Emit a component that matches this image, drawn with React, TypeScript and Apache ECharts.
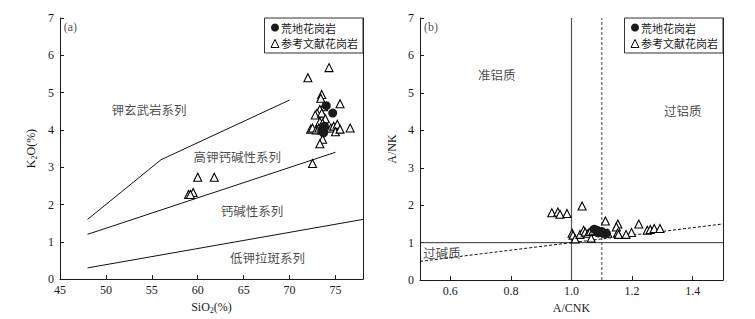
import React, { useEffect, useRef } from "react";
import * as echarts from "echarts";

// ---------- Panel (a): SiO2 vs K2O ----------
const aRefGranite: number[][] = [
  [72.0, 5.4], [74.3, 5.67], [73.5, 4.95], [73.4, 4.85], [75.5, 4.7],
  [73.7, 4.62], [73.3, 4.55], [73.0, 4.45], [72.8, 4.4], [73.5, 4.45],
  [73.9, 4.3], [73.3, 4.22], [73.6, 4.18], [72.3, 4.02], [72.5, 4.05],
  [72.9, 4.0], [73.2, 4.05], [73.5, 4.0], [74.0, 4.05], [74.5, 4.05],
  [74.8, 4.1], [75.2, 4.15], [75.0, 3.95], [75.5, 4.02], [76.6, 4.05],
  [73.6, 3.75], [73.3, 3.63], [72.5, 3.1], [60.0, 2.73], [61.8, 2.73],
  [59.5, 2.32], [59.0, 2.27], [59.2, 2.27],
];
const aHuangdi: number[][] = [
  [74.0, 4.65], [74.7, 4.45], [73.8, 4.1], [73.7, 3.92], [73.5, 4.0],
];
const aShoshoniteLine: number[][] = [[48, 1.6], [56, 3.2], [70, 4.8]];
const aHighKLine: number[][] = [[48, 1.2], [75, 3.4]];
const aLowKLine: number[][] = [[48, 0.3], [78, 1.6]];
const aLabels: { name: string; value: number[]; left?: boolean }[] = [
  { name: "(a)", value: [45.4, 6.75], left: true },
  { name: "钾玄武岩系列", value: [54.7, 4.56] },
  { name: "高钾钙碱性系列", value: [64.3, 3.3] },
  { name: "钙碱性系列", value: [65.9, 1.84] },
  { name: "低钾拉斑系列", value: [67.6, 0.59] },
];

// ---------- Panel (b): A/CNK vs A/NK ----------
const bRefGranite: number[][] = [
  [0.935, 1.8], [0.955, 1.82], [0.962, 1.76], [0.985, 1.78], [1.035, 1.98],
  [1.112, 1.58], [1.153, 1.5], [1.148, 1.42], [1.222, 1.5], [1.25, 1.33],
  [1.26, 1.35], [1.273, 1.38], [1.292, 1.38], [1.198, 1.27], [1.18, 1.22],
  [1.152, 1.26], [1.155, 1.22], [1.002, 1.25], [1.005, 1.2], [1.012, 1.1],
  [1.028, 1.22], [1.04, 1.33], [1.045, 1.28], [1.055, 1.25], [1.065, 1.12],
  [1.062, 1.3], [1.072, 1.33], [1.12, 1.25],
];
const bHuangdi: number[][] = [
  [1.075, 1.36], [1.085, 1.33], [1.095, 1.28], [1.105, 1.25],
  [1.115, 1.25], [1.088, 1.26], [1.1, 1.3],
];
const bACNK1: number[][] = [[1.0, 0], [1.0, 7]];
const bACNK11: number[][] = [[1.1, 0], [1.1, 7]];
const bANK1: number[][] = [[0.5, 1], [1.5, 1]];
const bDiagonal: number[][] = [[0.5, 0.5], [1.5, 1.5]];
const bLabels: { name: string; value: number[]; left?: boolean }[] = [
  { name: "(b)", value: [0.513, 6.75], left: true },
  { name: "准铝质", value: [0.753, 5.5] },
  { name: "过铝质", value: [1.367, 4.53] },
  { name: "过碱质", value: [0.573, 0.75] },
];

const SERIES_REF = "参考文献花岗岩";
const SERIES_HD = "荒地花岗岩";

const SERIF = "'Liberation Serif', 'DejaVu Serif', serif";
const CJK = "'Noto Sans CJK SC', sans-serif";
const INK = "#1a1a1a";

export default function App() {
  const ref = useRef<HTMLDivElement>(null);

  useEffect(() => {
    if (!ref.current) return;
    const chart = echarts.init(ref.current, undefined, { renderer: "svg" });

    const axisLine = { show: true, lineStyle: { color: INK, width: 1 } };
    const axisTick = { show: true, inside: true, length: 4, lineStyle: { color: INK } };
    const labelStyle = { color: INK, fontFamily: SERIF, fontSize: 12 };
    const nameStyle = {
      color: INK,
      fontFamily: SERIF,
      fontSize: 12,
      rich: {
        sub: { fontFamily: SERIF, fontSize: 8, color: INK, padding: [6, 0, 0, 0] },
      },
    };

    const grids = [
      { left: 60, top: 18, width: 303, height: 269 },
      { left: 420, top: 18, width: 303, height: 269 },
    ];

    const xAxes: any[] = [
      {
        gridIndex: 0, type: "value", min: 45, max: 78, interval: 5,
        axisLine, axisTick, splitLine: { show: false },
        axisLabel: { ...labelStyle, margin: 5, showMaxLabel: false },
        name: "SiO{sub|2}(%)", nameLocation: "middle", nameGap: 20, nameTextStyle: nameStyle,
      },
      {
        gridIndex: 1, type: "value", min: 0.5, max: 1.5, splitNumber: 5,
        axisLine, axisTick, splitLine: { show: false },
        axisLabel: {
          ...labelStyle, margin: 5, showMinLabel: false, showMaxLabel: false,
          formatter: (v: number) => v.toFixed(1),
        },
        name: "A/CNK", nameLocation: "middle", nameGap: 20, nameTextStyle: nameStyle,
      },
    ];

    const yCommon = {
      type: "value", min: 0, max: 7, interval: 1,
      splitLine: { show: false },
    };
    const yAxes: any[] = [
      {
        ...yCommon, gridIndex: 0, position: "left", axisLine, axisTick,
        axisLabel: { ...labelStyle, margin: 6 },
        name: "K{sub|2}O(%)", nameLocation: "middle", nameGap: 22, nameTextStyle: nameStyle,
      },
      {
        ...yCommon, gridIndex: 0, position: "right", axisLine,
        axisTick: { show: false }, axisLabel: { show: false },
      },
      {
        ...yCommon, gridIndex: 1, position: "left", axisLine, axisTick,
        axisLabel: { ...labelStyle, margin: 6 },
        name: "A/NK", nameLocation: "middle", nameGap: 22, nameTextStyle: nameStyle,
      },
      {
        ...yCommon, gridIndex: 1, position: "right", axisLine,
        axisTick: { show: false }, axisLabel: { show: false },
      },
    ];

    const lineSeries = (data: number[][], xi: number, yi: number, style: any) => ({
      type: "line", data, xAxisIndex: xi, yAxisIndex: yi, showSymbol: false,
      symbol: "none", silent: true, lineStyle: style, z: 2,
    });

    const triSeries = (data: number[][], xi: number, yi: number) => ({
      type: "scatter", name: SERIES_REF, data, xAxisIndex: xi, yAxisIndex: yi,
      symbol: "triangle", symbolSize: 8,
      itemStyle: { color: "#fff", borderColor: "#000", borderWidth: 1.1, opacity: 1 },
      z: 3,
    });
    const dotSeries = (data: number[][], xi: number, yi: number) => ({
      type: "scatter", name: SERIES_HD, data, xAxisIndex: xi, yAxisIndex: yi,
      symbol: "circle", symbolSize: 9,
      itemStyle: { color: "#1a1a1a", borderWidth: 0, opacity: 1 },
      z: 4,
    });
    const labelSeries = (items: { name: string; value: number[]; left?: boolean }[], xi: number, yi: number) => ({
      type: "scatter", data: items.map((it) => ({
        name: it.name, value: it.value,
        label: it.left
          ? { align: "left", fontFamily: SERIF, fontSize: 12 }
          : {},
      })),
      xAxisIndex: xi, yAxisIndex: yi, symbolSize: 0, silent: true,
      label: {
        show: true, position: "inside", formatter: "{b}",
        color: INK, fontFamily: CJK, fontSize: 12.5,
      },
      z: 5,
    });

    const legendBase = {
      orient: "vertical",
      top: 18,
      data: [
        { name: SERIES_HD, icon: "circle", itemStyle: { color: "#1a1a1a", borderWidth: 0 } },
        {
          name: SERIES_REF, icon: "triangle",
          itemStyle: { color: "#fff", borderColor: "#000", borderWidth: 1 },
        },
      ],
      itemWidth: 8, itemHeight: 8, itemGap: 5,
      padding: [4, 5, 4, 6],
      borderColor: "#333", borderWidth: 1, backgroundColor: "#fff",
      textStyle: { fontFamily: CJK, fontSize: 11, color: INK, padding: [0, 0, 0, -3] },
      selectedMode: false,
      z: 10,
    };

    chart.setOption({
      animation: false,
      backgroundColor: "#fff",
      grid: grids,
      xAxis: xAxes,
      yAxis: yAxes,
      legend: [
        { ...legendBase, right: 755 - 363 },
        { ...legendBase, right: 755 - 723 },
      ],
      series: [
        lineSeries(aShoshoniteLine, 0, 0, { color: "#111", width: 1 }),
        lineSeries(aHighKLine, 0, 0, { color: "#111", width: 1 }),
        lineSeries(aLowKLine, 0, 0, { color: "#111", width: 1 }),
        triSeries(aRefGranite, 0, 0),
        dotSeries(aHuangdi, 0, 0),
        labelSeries(aLabels, 0, 0),

        lineSeries(bACNK1, 1, 2, { color: "#555", width: 1.2 }),
        lineSeries(bACNK11, 1, 2, { color: "#666", width: 1.2, type: [3, 2] }),
        lineSeries(bANK1, 1, 2, { color: "#333", width: 1 }),
        lineSeries(bDiagonal, 1, 2, { color: "#111", width: 1, type: [3, 2] }),
        triSeries(bRefGranite, 1, 2),
        dotSeries(bHuangdi, 1, 2),
        labelSeries(bLabels, 1, 2),
      ],
    });

    return () => chart.dispose();
  }, []);

  return (
    <div
      ref={ref}
      style={{ position: "absolute", left: 0, top: 0, width: 755, height: 319, background: "#fff" }}
    />
  );
}
